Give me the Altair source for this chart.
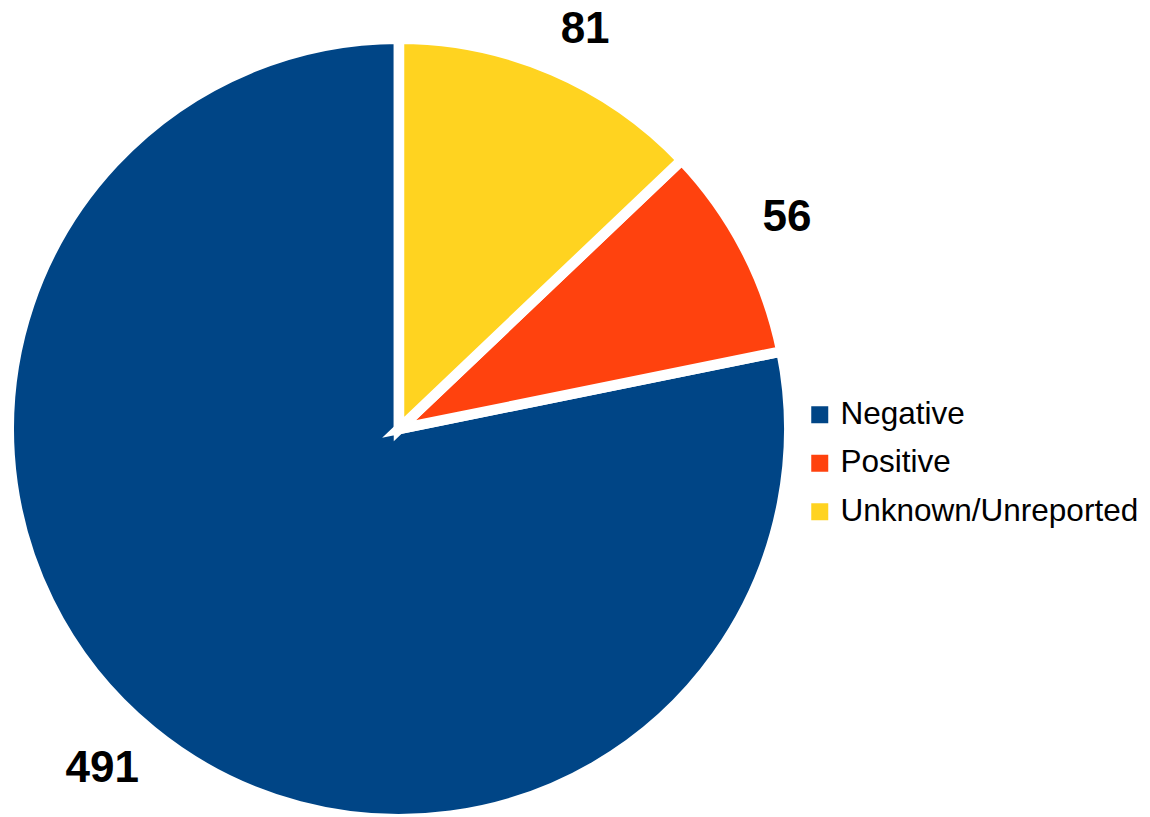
import altair as alt
import pandas as pd

categories = ["Negative", "Positive", "Unknown/Unreported"]
counts = [491, 56, 81]
stack_order = [2, 1, 0]  # clockwise from 12 o'clock: Unknown, Positive, Negative
colors = ["#004586", "#ff420e", "#ffd320"]

df = pd.DataFrame({"category": categories, "count": counts, "ord": stack_order})

CX, CY = 399, 429
R = 385
SW = 10.5

color = alt.Color(
    "category:N",
    scale=alt.Scale(domain=categories, range=colors),
    legend=alt.Legend(
        title=None,
        orient="none",
        legendX=804,
        legendY=399,
        symbolType="square",
        symbolSize=289,
        symbolStrokeWidth=0,
        symbolOpacity=1,
        labelFontSize=31.5,
        labelFont="Liberation Sans",
        labelColor="#000000",
        labelOffset=5,
        labelLimit=0,
        rowPadding=15.5,
        padding=0,
    ),
)

base = alt.Chart(df).encode(
    theta=alt.Theta("count:Q", stack=True),
    order=alt.Order("ord:Q"),
    x=alt.value(CX),
    y=alt.value(CY),
)

arcs = base.mark_arc(
    outerRadius=R + SW / 2, stroke="white", strokeWidth=SW
).encode(color=color)

labels = base.mark_text(
    radius=alt.expr("datum.ord == 2 ? 411 : 410"),
    fontSize=44,
    fontWeight="bold",
    font="Liberation Sans",
    color="#000000",
    baseline=alt.expr("datum.ord == 2 ? 'top' : 'bottom'"),
    align=alt.expr("datum.ord == 2 ? 'right' : 'left'"),
).encode(text="count:Q")

chart = (
    (arcs + labels)
    .properties(
        width=1150,
        height=817,
        autosize=alt.AutoSizeParams(type="none"),
        padding=0,
        background="white",
    )
    .configure_view(stroke=None)
)

chart.save("out.html", embed_options={"renderer": "svg", "actions": False})
